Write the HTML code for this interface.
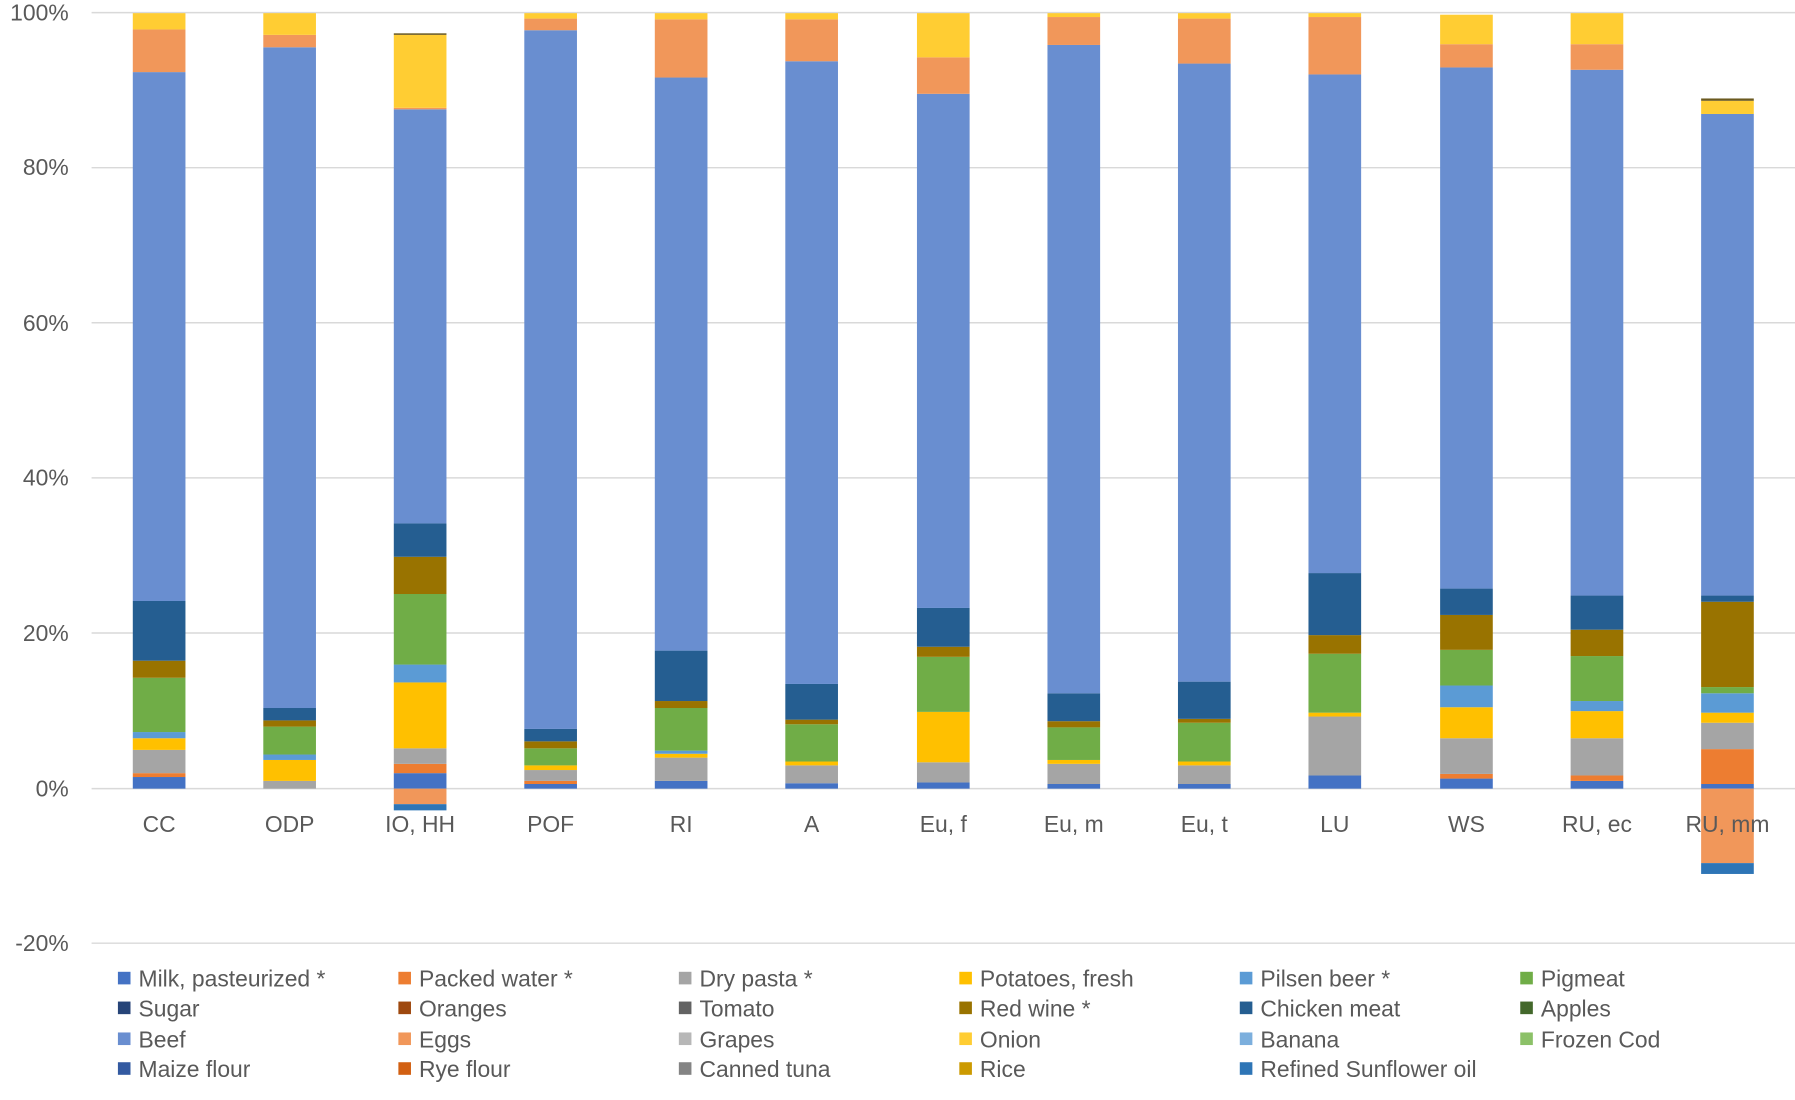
<!DOCTYPE html>
<html><head><meta charset="utf-8"><style>
html,body{margin:0;padding:0;background:#fff;width:1795px;height:1100px;overflow:hidden}
svg{display:block}
text{font-family:"Liberation Sans",sans-serif;fill:#595959}
</style></head><body>
<svg id="c" width="1795" height="1100" viewBox="0 0 1568 961" preserveAspectRatio="none">
<g stroke="#d9d9d9" stroke-width="1.3">
<line x1="80" x2="1568" y1="11" y2="11"/><line x1="80" x2="1568" y1="146.5" y2="146.5"/><line x1="80" x2="1568" y1="282" y2="282"/><line x1="80" x2="1568" y1="417.5" y2="417.5"/><line x1="80" x2="1568" y1="553" y2="553"/><line x1="80" x2="1568" y1="689" y2="689"/><line x1="80" x2="1568" y1="824" y2="824"/>
</g>
<g font-size="20" text-anchor="end">
<text x="60" y="18">100%</text><text x="60" y="153">80%</text><text x="60" y="289">60%</text><text x="60" y="424">40%</text><text x="60" y="560">20%</text><text x="60" y="696">0%</text><text x="60" y="831">-20%</text>
</g>
<g id="bars"></g>
<g font-size="20" text-anchor="middle">
<text x="139" y="727">CC</text><text x="253" y="727">ODP</text><text x="367" y="727">IO, HH</text><text x="481" y="727">POF</text><text x="595" y="727">RI</text><text x="709" y="727">A</text><text x="824" y="727">Eu, f</text><text x="938" y="727">Eu, m</text><text x="1052" y="727">Eu, t</text><text x="1166" y="727">LU</text><text x="1281" y="727">WS</text><text x="1395" y="727">RU, ec</text><text x="1509" y="727">RU, mm</text>
</g>
<g font-size="20" id="leg">
<rect x="103" y="849" width="11" height="11" fill="#4472C4"/><text x="121" y="862">Milk, pasteurized *</text>
<rect x="348" y="849" width="11" height="11" fill="#ED7D31"/><text x="366" y="862">Packed water *</text>
<rect x="593" y="849" width="11" height="11" fill="#A5A5A5"/><text x="611" y="862">Dry pasta *</text>
<rect x="838" y="849" width="11" height="11" fill="#FFC000"/><text x="856" y="862">Potatoes, fresh</text>
<rect x="1083" y="849" width="11" height="11" fill="#5B9BD5"/><text x="1101" y="862">Pilsen beer *</text>
<rect x="1328" y="849" width="11" height="11" fill="#70AD47"/><text x="1346" y="862">Pigmeat</text>
<rect x="103" y="875" width="11" height="11" fill="#264478"/><text x="121" y="888">Sugar</text>
<rect x="348" y="875" width="11" height="11" fill="#9E480E"/><text x="366" y="888">Oranges</text>
<rect x="593" y="875" width="11" height="11" fill="#636363"/><text x="611" y="888">Tomato</text>
<rect x="838" y="875" width="11" height="11" fill="#997300"/><text x="856" y="888">Red wine *</text>
<rect x="1083" y="875" width="11" height="11" fill="#255E91"/><text x="1101" y="888">Chicken meat</text>
<rect x="1328" y="875" width="11" height="11" fill="#43682B"/><text x="1346" y="888">Apples</text>
<rect x="103" y="902" width="11" height="11" fill="#698ED0"/><text x="121" y="915">Beef</text>
<rect x="348" y="902" width="11" height="11" fill="#F1975A"/><text x="366" y="915">Eggs</text>
<rect x="593" y="902" width="11" height="11" fill="#B7B7B7"/><text x="611" y="915">Grapes</text>
<rect x="838" y="902" width="11" height="11" fill="#FFCD33"/><text x="856" y="915">Onion</text>
<rect x="1083" y="902" width="11" height="11" fill="#7CAFDD"/><text x="1101" y="915">Banana</text>
<rect x="1328" y="902" width="11" height="11" fill="#8CC168"/><text x="1346" y="915">Frozen Cod</text>
<rect x="103" y="928" width="11" height="11" fill="#335AA1"/><text x="121" y="941">Maize flour</text>
<rect x="348" y="928" width="11" height="11" fill="#D26012"/><text x="366" y="941">Rye flour</text>
<rect x="593" y="928" width="11" height="11" fill="#848484"/><text x="611" y="941">Canned tuna</text>
<rect x="838" y="928" width="11" height="11" fill="#CC9A00"/><text x="856" y="941">Rice</text>
<rect x="1083" y="928" width="11" height="11" fill="#2E75B6"/><text x="1101" y="941">Refined Sunflower oil</text>
</g>
</svg>
<script>
var C={m:"#4472C4",pw:"#ED7D31",dp:"#A5A5A5",po:"#FFC000",pb:"#5B9BD5",pg:"#70AD47",rw:"#997300",ch:"#255E91",bf:"#698ED0",eg:"#F1975A",on:"#FFCD33",sf:"#2E75B6",dk:"#6b5a20"};
var X=[139,253,367,481,595,709,824,938,1052,1166,1281,1395,1509];
var D=[
[["m",1.5],["pw",2],["dp",5],["po",6.5],["pb",7.3],["pg",14.3],["rw",16.5],["ch",24.2],["bf",92.4],["eg",97.9],["on",100]],
[["dp",1],["po",3.7],["pb",4.4],["pg",8],["rw",8.8],["ch",10.4],["bf",95.6],["eg",97.2],["on",100]],
[["m",2],["pw",3.2],["dp",5.2],["po",13.7],["pb",16],["pg",25.1],["rw",29.9],["ch",34.2],["bf",87.6],["eg",87.8],["on",97.2],["dk",97.4]],
[["m",0.6],["pw",1],["dp",2.4],["po",3],["pg",5.2],["rw",6.1],["ch",7.7],["bf",97.8],["eg",99.3],["on",100]],
[["m",1],["dp",4],["po",4.5],["pb",4.9],["pg",10.4],["rw",11.3],["ch",17.8],["bf",91.7],["eg",99.2],["on",100]],
[["m",0.7],["dp",3],["po",3.5],["pg",8.3],["rw",8.9],["ch",13.5],["bf",93.8],["eg",99.2],["on",100]],
[["m",0.8],["dp",3.4],["po",9.9],["pg",17],["rw",18.3],["ch",23.3],["bf",89.6],["eg",94.3],["on",100]],
[["m",0.6],["dp",3.2],["po",3.7],["pg",7.9],["rw",8.7],["ch",12.3],["bf",95.9],["eg",99.5],["on",100]],
[["m",0.6],["dp",3],["po",3.5],["pg",8.5],["rw",9],["ch",13.8],["bf",93.5],["eg",99.3],["on",100]],
[["m",1.7],["dp",9.3],["po",9.8],["pg",17.4],["rw",19.8],["ch",27.8],["bf",92.1],["eg",99.5],["on",100]],
[["m",1.3],["pw",1.9],["dp",6.5],["po",10.5],["pb",13.3],["pg",17.9],["rw",22.4],["ch",25.8],["bf",93],["eg",96],["on",99.8]],
[["m",1],["pw",1.7],["dp",6.5],["po",10],["pb",11.3],["pg",17.1],["rw",20.5],["ch",24.9],["bf",92.7],["eg",96],["on",100]],
[["m",0.6],["pw",5.1],["dp",8.5],["po",9.8],["pb",12.3],["pg",13.1],["rw",24.1],["ch",24.9],["bf",87],["on",88.7],["dk",89]]
];
var N={2:[["eg",-2],["sf",-2.8]],12:[["eg",-9.6],["sf",-11]]};
function Y(v){return 689-v*6.775;}
var s="";
D.forEach(function(b,i){var p=0;b.forEach(function(r){var y1=Y(r[1]),y0=Y(p);s+='<rect x="'+(X[i]-23)+'" y="'+y1+'" width="46" height="'+(y0-y1)+'" fill="'+C[r[0]]+'"/>';p=r[1];});
if(N[i]){p=0;N[i].forEach(function(r){var y0=Y(p),y1=Y(r[1]);s+='<rect x="'+(X[i]-23)+'" y="'+y0+'" width="46" height="'+(y1-y0)+'" fill="'+C[r[0]]+'"/>';p=r[1];});}});
document.getElementById("bars").innerHTML=s;
</script>
</body></html>
